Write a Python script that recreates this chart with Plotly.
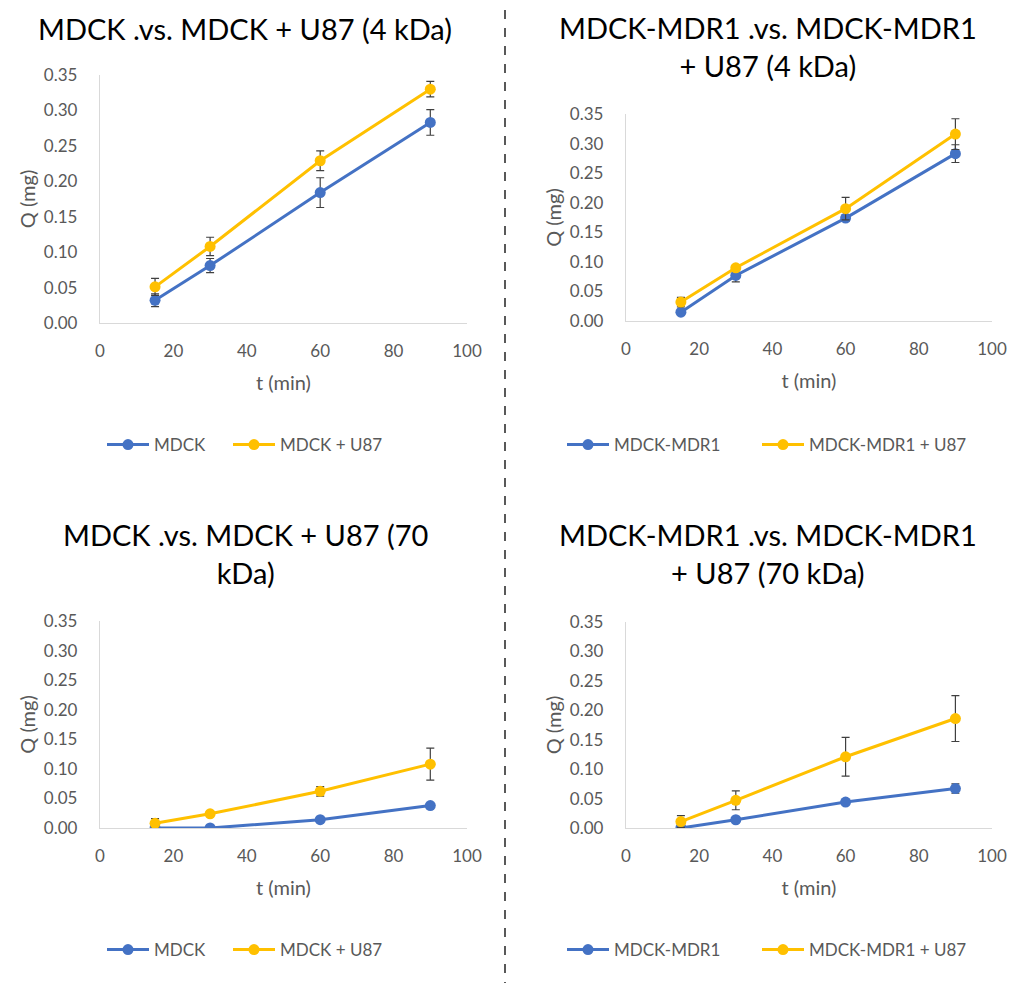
import plotly.graph_objects as go

t = [15, 30, 60, 90]

# Panel 1: 4 kDa, MDCK
p1_a = [0.032, 0.081, 0.184, 0.283]
p1_a_err = [0.009, 0.010, 0.021, 0.018]
p1_b = [0.051, 0.108, 0.229, 0.330]
p1_b_err = [0.012, 0.013, 0.014, 0.011]

# Panel 2: 4 kDa, MDCK-MDR1
p2_a = [0.015, 0.077, 0.174, 0.283]
p2_a_err = [0.004, 0.011, 0.005, 0.015]
p2_b = [0.032, 0.090, 0.190, 0.316]
p2_b_err = [0.008, 0.004, 0.019, 0.026]

# Panel 3: 70 kDa, MDCK
p3_a = [0.000, 0.000, 0.014, 0.038]
p3_a_err = [0.002, 0.002, 0.003, 0.003]
p3_b = [0.008, 0.024, 0.062, 0.108]
p3_b_err = [0.008, 0.003, 0.008, 0.027]

# Panel 4: 70 kDa, MDCK-MDR1
p4_a = [0.000, 0.014, 0.044, 0.067]
p4_a_err = [0.002, 0.003, 0.003, 0.008]
p4_b = [0.011, 0.047, 0.121, 0.186]
p4_b_err = [0.010, 0.016, 0.033, 0.039]

titles = [
    "MDCK .vs. MDCK + U87 (4 kDa)",
    "MDCK-MDR1 .vs. MDCK-MDR1<br>+ U87 (4 kDa)",
    "MDCK .vs. MDCK + U87 (70<br>kDa)",
    "MDCK-MDR1 .vs. MDCK-MDR1<br>+ U87 (70 kDa)",
]
names = [
    ("MDCK", "MDCK + U87"),
    ("MDCK-MDR1", "MDCK-MDR1 + U87"),
    ("MDCK", "MDCK + U87"),
    ("MDCK-MDR1", "MDCK-MDR1 + U87"),
]
x_ticks = [0, 20, 40, 60, 80, 100]
y_ticks = [0, 0.05, 0.10, 0.15, 0.20, 0.25, 0.30, 0.35]
y_tick_text = ["0.00", "0.05", "0.10", "0.15", "0.20", "0.25", "0.30", "0.35"]

W, H = 1021, 983
OFF = 8  # page body margin
BLUE = "#4472C4"
GOLD = "#FFC000"
FONT = "Lato"
TXT = "#595959"

def px_x(v):
    return (v - OFF) / W

def px_y(v):
    return 1 - (v - OFF) / H

# plot-area pixel boxes (left, right, top, bottom)
boxes = [
    (100, 467, 75, 323),
    (626, 992, 114, 321),
    (100, 467, 621, 828),
    (626, 992, 622, 828),
]
title_pos = [(245, 28), (768, 47), (245, 553), (768, 553)]
# legend line start x for each of the two items, and centre y
legend_items = [((107, 233), 445), ((567, 762), 445), ((107, 233), 950), ((567, 762), 950)]

data = [
    (p1_a, p1_a_err, p1_b, p1_b_err),
    (p2_a, p2_a_err, p2_b, p2_b_err),
    (p3_a, p3_a_err, p3_b, p3_b_err),
    (p4_a, p4_a_err, p4_b, p4_b_err),
]

fig = go.Figure()
layout = {}
annotations = []
lg_n = 0
for i in range(4):
    k = "" if i == 0 else str(i + 1)
    xa, ya = "x" + k, "y" + k
    a, ae, b, be = data[i]
    (lx1, lx2), ly = legend_items[i]
    for j, (vals, errs, col, nm, lx) in enumerate(
            ((a, ae, BLUE, names[i][0], lx1), (b, be, GOLD, names[i][1], lx2))):
        lg_n += 1
        lg = "legend" if lg_n == 1 else "legend" + str(lg_n)
        fig.add_trace(go.Scatter(
            x=t, y=vals, mode="lines+markers", name=nm, showlegend=True,
            line=dict(color=col, width=3),
            marker=dict(color=col, size=11),
            error_y=dict(type="data", array=errs, visible=True,
                         color="#404040", thickness=1.2, width=4),
            xaxis=xa, yaxis=ya, legend=lg,
        ))
        layout[lg] = dict(
            x=px_x(lx - 5), y=px_y(ly), xanchor="left", yanchor="middle",
            orientation="h", font=dict(family=FONT, size=17, color=TXT),
            bgcolor="rgba(0,0,0,0)", itemclick=False, itemwidth=42,
        )
    l, r, tp, bt = boxes[i]
    layout["xaxis" + k] = dict(
        domain=[px_x(l), px_x(r)], range=[0, 100], anchor=ya, automargin=False,
        tickvals=x_ticks, showgrid=False, zeroline=False,
        showline=True, linecolor="#D9D9D9", linewidth=1.3,
        ticks="outside", ticklen=12, tickcolor="rgba(0,0,0,0)",
        tickfont=dict(family=FONT, size=17, color=TXT),
        title=dict(text="t (min)", font=dict(family=FONT, size=20, color=TXT), standoff=16),
    )
    layout["yaxis" + k] = dict(
        domain=[px_y(bt), px_y(tp)], range=[0, 0.35], anchor=xa, automargin=False,
        tickvals=y_ticks, ticktext=y_tick_text, showgrid=False, zeroline=False,
        showline=True, linecolor="#D9D9D9", linewidth=1.3,
        ticks="outside", ticklen=18, tickcolor="rgba(0,0,0,0)",
        tickfont=dict(family=FONT, size=17, color=TXT),
        title=dict(text="Q (mg)", font=dict(family=FONT, size=20, color=TXT), standoff=2),
    )
    tx, ty = title_pos[i]
    annotations.append(dict(
        text=titles[i], x=px_x(tx), y=px_y(ty), xref="paper", yref="paper",
        xanchor="center", yanchor="middle", showarrow=False,
        font=dict(family=FONT, size=29, color="#000000"),
    ))

fig.update_layout(
    width=W, height=H, margin=dict(l=0, r=0, t=0, b=0),
    paper_bgcolor="white", plot_bgcolor="white", showlegend=True,
    annotations=annotations,
    shapes=[dict(type="line", xref="paper", yref="paper",
                 x0=px_x(505), x1=px_x(505), y0=0, y1=1,
                 line=dict(color="#000000", width=1.3, dash="dash"))],
    **layout,
)

fig.write_html("out.html")
